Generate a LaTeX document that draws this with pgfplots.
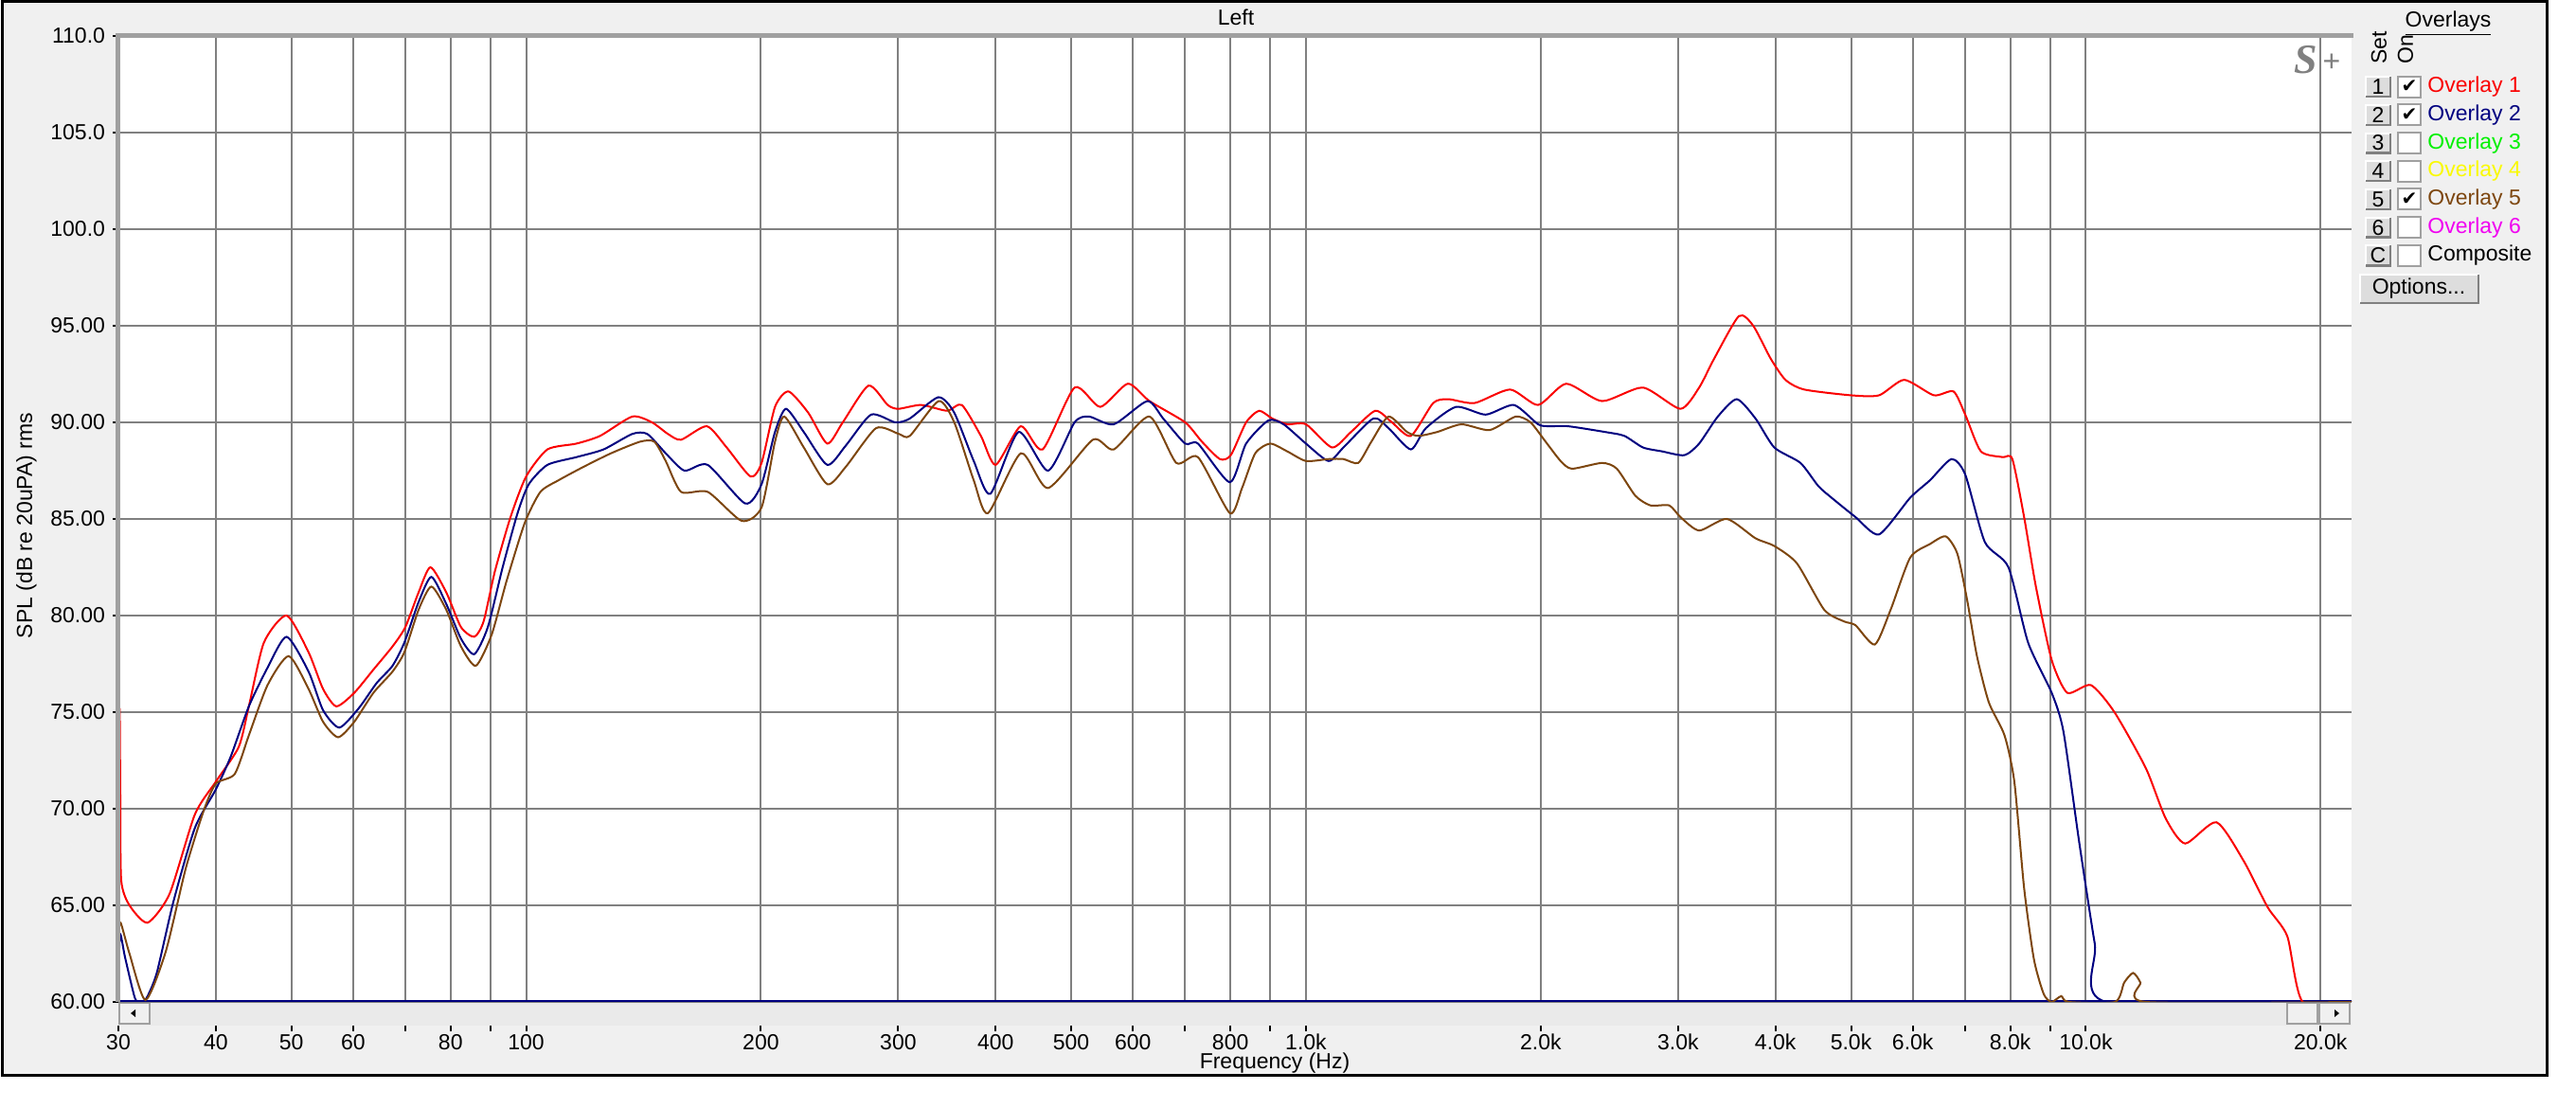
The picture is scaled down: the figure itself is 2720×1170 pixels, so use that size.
\documentclass[border=0pt]{standalone}
\usepackage{fontspec}
\setmainfont{Liberation Sans}
\newfontfamily\symfont{DejaVu Sans}
\newfontfamily\logofont{Liberation Serif}
\usepackage{pgfplots}
\pgfplotsset{compat=1.18}

\definecolor{ovred}{RGB}{250,0,0}
\definecolor{ovnavy}{RGB}{0,0,128}
\definecolor{ovbrown}{RGB}{125,70,15}
\definecolor{ovgreen}{RGB}{0,240,0}
\definecolor{ovyellow}{RGB}{250,250,0}
\definecolor{ovmag}{RGB}{240,0,240}
\definecolor{panel}{RGB}{240,240,240}
\definecolor{gridgray}{RGB}{128,128,128}
\definecolor{framegray}{RGB}{160,160,160}
\definecolor{scrollbg}{RGB}{234,234,234}

\begin{document}
\fontsize{11.5}{13.8}\selectfont
\begin{tikzpicture}[x=0.5pt,y=0.5pt]
  % window
  \fill[white] (0,0) rectangle (2720,1170);
  \filldraw[fill=panel, draw=black, line width=1.5pt] (2.5,34) rectangle (2689,1168);
  \fill[white] (125,112) rectangle (2483,1132);
  % scroll bar
  \fill[scrollbg] (125,87) rectangle (2483,112);
  \filldraw[fill=panel, draw=framegray, line width=1pt] (126,89) rectangle (158,111);
  \fill[black] (138,100) -- (143,104) -- (143,96) -- cycle;
  \filldraw[fill=panel, draw=framegray, line width=1pt] (2415,89) rectangle (2447,111);
  \filldraw[fill=panel, draw=framegray, line width=1pt] (2449,89) rectangle (2481,111);
  \fill[black] (2470,100) -- (2465,104) -- (2465,96) -- cycle;

  \begin{axis}[
    at={(62.5pt,56pt)}, anchor=south west,
    width=1179pt, height=510pt, scale only axis,
    xmode=log, xmin=30, xmax=21924,
    ymin=60, ymax=110,
    axis line style={draw=none},
    grid=major,
    major grid style={gridgray, line width=1pt},
    tick pos=left,
    tick align=outside,
    major tick length=3pt,
    tick style={black, line width=1pt},
    xtick style={draw=none},
    xtick={30,40,50,60,70,80,90,100,200,300,400,500,600,700,800,900,1000,2000,3000,4000,5000,6000,7000,8000,9000,10000,20000},
    xticklabels={30,40,50,60,,80,,100,200,300,400,500,600,,800,,1.0k,2.0k,3.0k,4.0k,5.0k,6.0k,,8.0k,,10.0k,20.0k},
    ytick={60,65,70,75,80,85,90,95,100,105,110},
    yticklabels={60.00,65.00,70.00,75.00,80.00,85.00,90.00,95.00,100.0,105.0,110.0},
    tick label style={font=\fontsize{11.5}{13.8}\selectfont},
    xticklabel style={yshift=-10pt},
  ]
  % floor line
  \addplot[ovnavy, line width=1.7pt] coordinates {(30,60) (21924,60)};

  % Overlay 1
  \addplot[ovred, line width=1pt, smooth, tension=0.4] coordinates {
    (30.12,75.2) (30.17,70.6) (30.25,66.3) (31,65.0) (32.7,64.1) (34.9,65.6) (37.6,69.7)
    (40,71.4) (42.8,73.2) (44.1,75.3) (46.1,78.6) (49.3,80.0) (52.6,78.1) (54.9,76.2)
    (57.1,75.3) (60.2,76.0) (63.7,77.2) (67.4,78.4) (70,79.4) (72.8,81.2) (75.4,82.5)
    (79,81.2) (82.5,79.4) (85.8,78.9) (88.2,79.7) (91.2,82.3) (95.5,85.1) (100,87.2)
    (106.5,88.6) (116,88.9) (124.4,89.3) (136.8,90.3) (145,90.0) (152,89.4) (158,89.1)
    (170.5,89.8) (180.8,88.7) (194,87.2) (200.4,87.9) (208.5,90.8) (217,91.6) (230,90.5)
    (243.3,88.9) (254.7,90.0) (274.8,91.9) (290.8,90.9) (300,90.7) (321,90.9) (346.7,90.6)
    (362,90.9) (383,89.3) (400,87.8) (430.8,89.8) (459.5,88.6) (505,91.8) (544.8,90.8)
    (591,92.0) (630,91.1) (700,90.0) (735.5,89.0) (775.6,88.1) (801,88.3) (838,90.0)
    (871,90.6) (905,90.2) (946,89.9) (1000,89.9) (1080,88.7) (1142,89.5) (1227,90.6)
    (1289,90.0) (1363,89.3) (1456,91.0) (1522,91.2) (1645,91.0) (1827,91.7) (1985,90.9)
    (2156,92.0) (2397,91.1) (2705,91.8) (3021,90.7) (3193,91.8) (3338,93.3) (3591,95.5)
    (3746,95.0) (3944,93.3) (4120,92.2) (4354,91.7) (5000,91.4) (5431,91.4) (5850,92.2)
    (6385,91.4) (6767,91.6) (7005,90.4) (7337,88.5) (7820,88.2) (8050,88.1) (8335,85.1)
    (8630,81.5) (9042,77.7) (9470,76.0) (10151,76.4) (10883,75.0) (11940,72.1) (12660,69.5)
    (13408,68.2) (14710,69.3) (15940,67.3) (17110,64.9) (18130,63.4) (18980,60.0) (21924,60.0)
  };

  % Overlay 2
  \addplot[ovnavy, line width=1pt, smooth, tension=0.4] coordinates {
    (30,61.0) (30.15,63.5) (30.6,62.3) (31.5,60.2) (32,60.0) (32.6,60.2) (33.6,61.5)
    (35.3,65.2) (37.6,69.0) (40,71.0) (41.8,72.7) (44.1,75.3) (46.6,77.3) (49.3,78.9)
    (52.6,77.1) (54.9,75.1) (57.6,74.2) (61,75.2) (64.3,76.5) (67.4,77.4) (69.8,78.6)
    (72.8,80.7) (75.6,82.0) (79,80.6) (82.5,78.8) (85.8,78.0) (89.3,79.4) (93.3,82.5)
    (97.5,85.3) (100.8,86.8) (106.5,87.8) (116,88.2) (125.7,88.6) (136.8,89.4) (143,89.4)
    (151,88.4) (159.6,87.5) (170.9,87.8) (191,85.8) (200.4,86.8) (208.5,89.5) (215.4,90.7)
    (227,89.5) (243.3,87.8) (257,88.8) (276.9,90.4) (297.4,90.0) (310.5,90.2) (337.7,91.3)
    (354,90.5) (375,88.0) (393.8,86.3) (428,89.5) (467,87.5) (505,90.0) (527,90.3)
    (567,89.9) (626,91.1) (656,90.2) (700,88.9) (727,88.9) (799,86.9) (838,88.9)
    (895,90.1) (936,89.9) (1000,88.9) (1069,88.0) (1117,88.7) (1220,90.2) (1276,89.7)
    (1363,88.6) (1425,89.7) (1557,90.8) (1700,90.4) (1848,90.9) (1985,89.9) (2052,89.8)
    (2168,89.8) (2420,89.5) (2560,89.3) (2705,88.7) (2860,88.5) (3057,88.3) (3193,88.9)
    (3374,90.3) (3568,91.2) (3771,90.2) (3987,88.7) (4306,87.9) (4540,86.7) (4720,86.1)
    (5065,85.1) (5431,84.2) (5955,86.1) (6312,87.0) (6726,88.1) (7005,87.3) (7424,83.8)
    (7960,82.5) (8434,78.6) (9042,76.0) (9361,74.0) (9805,68.3) (10270,63.0) (10633,60.0)
    (21924,60.0)
  };

  % Overlay 5
  \addplot[ovbrown, line width=1pt, smooth, tension=0.4] coordinates {
    (30,63.5) (30.2,64.1) (31,62.5) (32.5,60.1) (34.5,62.6) (36.6,66.9) (38.6,69.9)
    (40,71.3) (42.3,71.8) (44.1,73.8) (46.6,76.4) (49.6,77.9) (52.6,76.2) (54.9,74.5)
    (57.4,73.7) (60.2,74.5) (63.7,76.0) (67.4,77.1) (69.8,78.1) (72.8,80.3) (75.6,81.5)
    (79,80.3) (82.5,78.4) (86.2,77.4) (90.3,79.0) (94.4,81.8) (99.6,84.8) (104.3,86.4)
    (110,87.0) (118.5,87.7) (128.5,88.4) (140,89.0) (146,89.0) (151,88.0) (158,86.4)
    (171,86.4) (189,84.9) (200.4,85.6) (208.5,89.0) (214.3,90.3) (227,88.7) (243.3,86.8)
    (257,87.7) (281,89.7) (300.6,89.4) (310.5,89.3) (338,91.1) (354,90.0) (375,87.0)
    (391,85.3) (431,88.4) (467,86.6) (533,89.1) (567,88.6) (630,90.3) (682,87.9)
    (727,88.2) (799,85.3) (828,86.6) (861,88.4) (900,88.9) (946,88.5) (1000,88.0)
    (1069,88.1) (1117,88.1) (1167,87.9) (1213,89.0) (1276,90.3) (1348,89.5) (1394,89.3)
    (1473,89.5) (1583,89.9) (1720,89.6) (1858,90.3) (1941,90.0) (2029,89.0) (2121,88.0)
    (2193,87.6) (2397,87.9) (2504,87.6) (2645,86.2) (2765,85.7) (2923,85.7) (3021,85.1)
    (3193,84.4) (3466,85.0) (3771,84.0) (3987,83.6) (4262,82.7) (4619,80.3) (4894,79.7)
    (5065,79.5) (5364,78.5) (5620,80.3) (5955,83.0) (6312,83.7) (6612,84.1) (6844,83.2)
    (7045,80.8) (7252,77.9) (7512,75.5) (7868,73.8) (8098,71.4) (8335,65.9) (8581,62.2)
    (8834,60.4) (9042,60.0) (9300,60.3) (9500,60.0) (10900,60.0) (11200,61.0) (11500,61.5)
    (11750,61.0) (11940,60.0) (21924,60.0)
  };

  \pgfplotsinvokeforeach{30,40,50,60,70,80,90,100,200,300,400,500,600,700,800,900,1000,2000,3000,4000,5000,6000,7000,8000,9000,10000,20000}{
    \coordinate (xt#1) at (axis cs:#1,60);
  }
  \end{axis}

  % x ticks below the scroll bar
  \foreach \f in {30,40,50,60,70,80,90,100,200,300,400,500,600,700,800,900,1000,2000,3000,4000,5000,6000,7000,8000,9000,10000,20000}
    \draw[black, line width=1pt] (xt\f) ++(0,-25) -- ++(0,-6);

  % plot frame
  \draw[framegray, line width=2.5pt] (124,112) -- (124,1132.5) -- (2485,1132.5);

  % texts
  \node at (1305,1152) {Left};
  \node[rotate=90] at (28,615) {SPL (dB re 20uPA) rms};
  \node at (1346,47) {Frequency (Hz)};
  \node[text=gridgray, inner sep=0] at (2435,1107) {\logofont\bfseries\itshape\fontsize{22}{26}\selectfont S};
  \node[text=gridgray, inner sep=0] at (2462,1104) {\fontsize{16}{18}\selectfont +};

  % overlay panel
  \node at (2585,1145) {\underline{Overlays}};
  \node[rotate=90, anchor=west, inner sep=0] at (2512,1102) {Set};
  \node[rotate=90, anchor=west, inner sep=0] at (2540,1102) {On};
  \foreach \lab/\col/\txt/\chk [count=\i from 0] in {1/ovred/Overlay 1/1, 2/ovnavy/Overlay 2/1, 3/ovgreen/Overlay 3/0, 4/ovyellow/Overlay 4/0, 5/ovbrown/Overlay 5/1, 6/ovmag/Overlay 6/0, C/black/Composite/0} {
    \pgfmathsetmacro\yc{1078.3-29.7*\i}
    \fill[panel!92!black] (2498,\yc-10.5) rectangle (2524,\yc+10.5);
    \draw[white, line width=1pt] (2498,\yc-10.5) -- (2498,\yc+10.5) -- (2524,\yc+10.5);
    \draw[gray, line width=1.2pt] (2498,\yc-10.5) -- (2524,\yc-10.5) -- (2524,\yc+10.5);
    \node at (2511,\yc) {\lab};
    \filldraw[fill=white, draw=framegray, line width=1pt] (2532,\yc-11) rectangle (2556,\yc+11);
    \ifnum\chk=1 \node at (2544,\yc) {\symfont\fontsize{10}{12}\selectfont ✔}; \fi
    \node[anchor=west, text=\col, inner sep=0] at (2563,\yc) {\txt};
  }
  \fill[panel!92!black] (2492,850) rectangle (2617,880);
  \draw[white, line width=1pt] (2492,850) -- (2492,880) -- (2617,880);
  \draw[gray, line width=1.2pt] (2492,850) -- (2617,850) -- (2617,880);
  \node at (2554,865) {Options...};
\end{tikzpicture}
\end{document}
